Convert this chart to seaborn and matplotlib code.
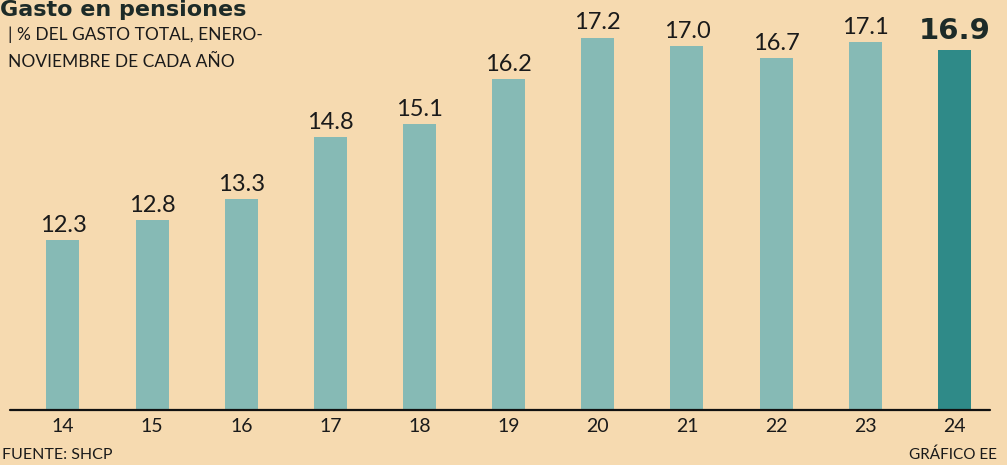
import matplotlib
matplotlib.use("Agg")
import matplotlib.pyplot as plt
import seaborn as sns
import pandas as pd

years = ["14", "15", "16", "17", "18", "19", "20", "21", "22", "23", "24"]
values = [12.3, 12.8, 13.3, 14.8, 15.1, 16.2, 17.2, 17.0, 16.7, 17.1, 16.9]
labels = ["12.3", "12.8", "13.3", "14.8", "15.1", "16.2", "17.2", "17.0", "16.7", "17.1", "16.9"]

sns.set_theme(style="white")
plt.rcParams['font.family'] = ['Lato', 'DejaVu Sans']
plt.rcParams['text.color'] = '#1a1a1a'

bg = "#f6dab0"
light = "#86bab5"
dark = "#2f8a88"
colors = [light] * (len(years) - 1) + [dark]
txt = "#1a1a1a"

fig = plt.figure(figsize=(10.07, 4.65), dpi=100)
fig.patch.set_facecolor(bg)
ax = fig.add_axes([0.0, 0.118, 1.0, 0.8725])
ax.set_facecolor(bg)

df = pd.DataFrame({"year": years, "value": values})
sns.barplot(data=df, x="year", y="value", hue="year", palette=colors,
            legend=False, width=0.37, ax=ax, saturation=1, linewidth=0,
            edgecolor="none")

ax.set_xlim(-0.6 - 9.5/89.2, 10.4 + 17/89.2)
ax.set_ylim(8.2, 18.0)
for s in ax.spines.values():
    s.set_visible(False)
ax.set_yticks([])
ax.set_xlabel("")
ax.set_ylabel("")
ax.axhline(8.2, xmin=(9.5)/1007, xmax=990/1007, color="#111111", lw=1.6, clip_on=False)
ax.tick_params(axis="x", length=0, pad=6, labelsize=14, labelcolor=txt)

for i, (v, lab) in enumerate(zip(values, labels)):
    if i == len(values) - 1:
        ax.text(i, v + 0.12, lab, ha="center", va="bottom", fontsize=21,
                fontweight="bold", family="DejaVu Sans", color="#1d2b28")
    else:
        ax.text(i, v + 0.1, lab, ha="center", va="bottom", fontsize=17,
                fontweight="normal", color=txt)

fig.text(0.0, 1.0, "Gasto en pensiones", ha="left", va="top", fontsize=16,
         fontweight="bold", family="DejaVu Sans", color="#1d2b28")
fig.text(0.008, 0.925, "| % DEL GASTO TOTAL, ENERO-", ha="left", va="center",
         fontsize=12.5, color=txt)
fig.text(0.008, 0.866, "NOVIEMBRE DE CADA AÑO", ha="left", va="center",
         fontsize=12.5, color=txt)
fig.text(0.002, 0.022, "FUENTE: SHCP", ha="left", va="center",
         fontsize=11.5, color=txt)
fig.text(0.99, 0.022, "GRÁFICO EE", ha="right", va="center",
         fontsize=11, color=txt)

fig.savefig("out.png", dpi=100, facecolor=bg)
